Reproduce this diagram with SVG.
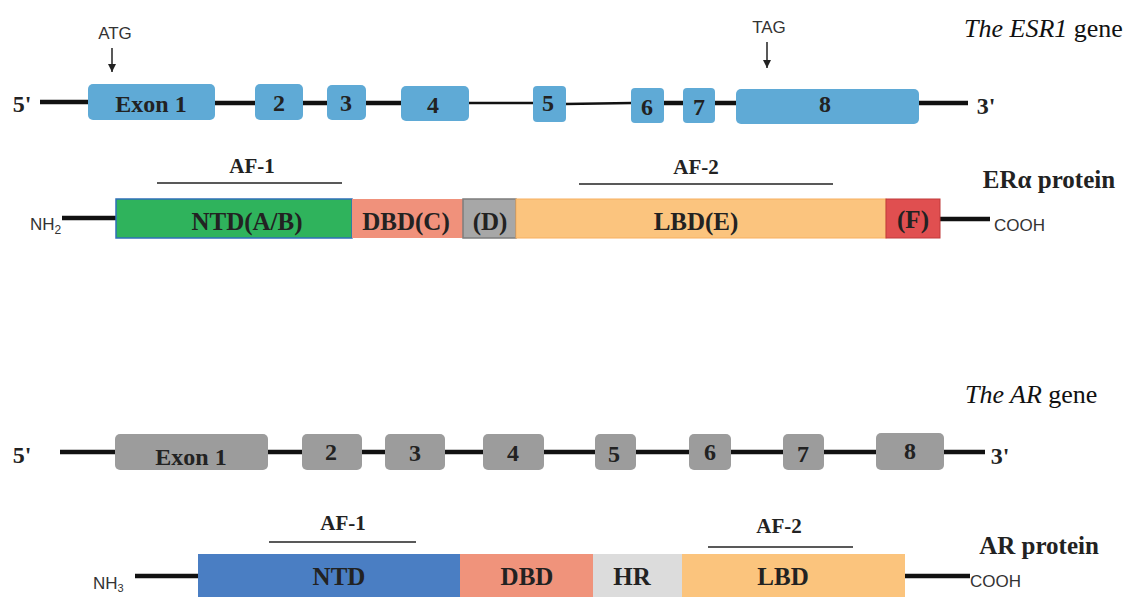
<svg xmlns="http://www.w3.org/2000/svg" width="1130" height="597" viewBox="0 0 1130 597">
<defs>
<style>
.lab{font-family:"Liberation Serif",serif;font-weight:bold;fill:#222;text-anchor:middle}
.ser{font-family:"Liberation Serif",serif;fill:#111}
.sans{font-family:"Liberation Sans",sans-serif;fill:#333}
.ex{fill:#5faad6}
.gx{fill:#9c9c9c}
.thick{stroke:#111;stroke-width:4.5}
.thin{stroke:#111;stroke-width:2.5}
.af{stroke:#222;stroke-width:1.3}
</style>
<marker id="ar" viewBox="0 0 10 10" refX="10" refY="5" markerWidth="8" markerHeight="8" orient="auto" markerUnits="userSpaceOnUse">
<path d="M0,0 L10,5 L0,10 Z" fill="#222"/>
</marker>
</defs>
<rect width="1130" height="597" fill="#fff"/>

<g id="connectors">
<line class="thick" x1="40" y1="102" x2="90" y2="102"/>
<line class="thick" x1="215" y1="103" x2="256" y2="103"/>
<line class="thick" x1="302" y1="103" x2="328" y2="103"/>
<line class="thick" x1="365" y1="103" x2="402" y2="103"/>
<line class="thin" x1="468" y1="103" x2="534" y2="103"/>
<line class="thin" x1="565" y1="104" x2="632" y2="103"/>
<line class="thick" x1="663" y1="103" x2="684" y2="103"/>
<line class="thick" x1="714" y1="103" x2="737" y2="103"/>
<line class="thick" x1="918" y1="103" x2="968" y2="103"/>
<line stroke="#222" stroke-width="1.5" x1="112" y1="48" x2="112" y2="72" marker-end="url(#ar)"/>
<line stroke="#222" stroke-width="1.5" x1="767" y1="42" x2="767" y2="68" marker-end="url(#ar)"/>
<line class="af" x1="157" y1="183" x2="342" y2="183"/>
<line class="af" x1="579" y1="184" x2="833" y2="184"/>
<line class="thick" x1="62" y1="218" x2="118" y2="218"/>
<line class="thick" x1="940" y1="219" x2="990" y2="219"/>
<line class="thick" x1="60" y1="452" x2="116" y2="452"/>
<line class="thick" x1="267" y1="452" x2="303" y2="452"/>
<line class="thick" x1="361" y1="452" x2="386" y2="452"/>
<line class="thick" x1="444" y1="452" x2="484" y2="452"/>
<line class="thick" x1="543" y1="452" x2="596" y2="452"/>
<line class="thick" x1="635" y1="452" x2="690" y2="452"/>
<line class="thick" x1="730" y1="452" x2="784" y2="452"/>
<line class="thick" x1="823" y1="452" x2="877" y2="452"/>
<line class="thick" x1="943" y1="452" x2="985" y2="452"/>
<line class="af" x1="269" y1="542" x2="416" y2="542"/>
<line class="af" x1="708" y1="547" x2="853" y2="547"/>
<line class="thick" x1="135" y1="576" x2="200" y2="576"/>
<line class="thick" x1="905" y1="576" x2="970" y2="576"/>
</g>

<g id="esr1-title"><text class="ser" x="964" y="37" font-size="26"><tspan font-style="italic">The ESR1</tspan> gene</text></g>
<g id="atg"><text class="sans" x="115" y="39" font-size="17" text-anchor="middle">ATG</text></g>
<g id="tag"><text class="sans" x="769" y="33" font-size="17" text-anchor="middle">TAG</text></g>
<g id="esr1-5p"><text class="lab" x="22" y="112" font-size="24">5'</text></g>
<g id="esr1-3p"><text class="lab" x="986" y="114" font-size="24">3'</text></g>

<g id="esr1-exon1"><rect class="ex" x="88" y="84" width="127" height="36" rx="5"/><text class="lab" x="151" y="112" font-size="24">Exon 1</text></g>
<g id="esr1-exon2"><rect class="ex" x="255" y="84" width="48" height="36" rx="5"/><text class="lab" x="279" y="111" font-size="24">2</text></g>
<g id="esr1-exon3"><rect class="ex" x="327" y="85" width="39" height="35" rx="5"/><text class="lab" x="346" y="111" font-size="24">3</text></g>
<g id="esr1-exon4"><rect class="ex" x="401" y="86" width="68" height="35" rx="5"/><text class="lab" x="433" y="113" font-size="24">4</text></g>
<g id="esr1-exon5"><rect class="ex" x="533" y="86" width="33" height="36" rx="4"/><text class="lab" x="548" y="111" font-size="24">5</text></g>
<g id="esr1-exon6"><rect class="ex" x="631" y="88" width="33" height="35" rx="4"/><text class="lab" x="647" y="115" font-size="24">6</text></g>
<g id="esr1-exon7"><rect class="ex" x="683" y="88" width="32" height="35" rx="4"/><text class="lab" x="699" y="115" font-size="24">7</text></g>
<g id="esr1-exon8"><rect class="ex" x="736" y="89" width="183" height="35" rx="5"/><text class="lab" x="825" y="112" font-size="24">8</text></g>

<g id="era-title"><text class="lab" x="1049" y="188" font-size="25">ERα protein</text></g>
<g id="era-af1"><text class="lab" x="252" y="173" font-size="21">AF-1</text></g>
<g id="era-af2"><text class="lab" x="696" y="174" font-size="21">AF-2</text></g>
<g id="era-nh2"><text class="sans" x="30" y="230" font-size="17">NH<tspan font-size="12" dy="4">2</tspan></text></g>
<g id="era-cooh"><text class="sans" x="994" y="231" font-size="17">COOH</text></g>
<g id="era-ntd"><rect x="116" y="199" width="236" height="39" fill="#2fb35c" stroke="#2f6fb8" stroke-width="1.5"/><text class="lab" x="247" y="230" font-size="25">NTD(A/B)</text></g>
<g id="era-dbd"><rect x="352" y="199" width="111" height="39" fill="#f0917b"/><text class="lab" x="406" y="230" font-size="25">DBD(C)</text></g>
<g id="era-d"><rect x="463" y="199" width="53" height="39" fill="#a7a7a7" stroke="#7d7d7d" stroke-width="1.5"/><text class="lab" x="490" y="230" font-size="25">(D)</text></g>
<g id="era-lbd"><rect x="516" y="199" width="370" height="39" fill="#fbc47e" stroke="#f7b060" stroke-width="1"/><text class="lab" x="696" y="230" font-size="25">LBD(E)</text></g>
<g id="era-f"><rect x="886" y="199" width="54" height="39" fill="#e04f50" stroke="#c03a3a" stroke-width="1"/><text class="lab" x="913" y="228" font-size="25">(F)</text></g>

<g id="ar-title"><text class="ser" x="965" y="403" font-size="26"><tspan font-style="italic">The AR</tspan> gene</text></g>
<g id="ar-5p"><text class="lab" x="22" y="463" font-size="24">5'</text></g>
<g id="ar-3p"><text class="lab" x="1000" y="464" font-size="24">3'</text></g>
<g id="ar-exon1"><rect class="gx" x="115" y="434" width="153" height="36" rx="5"/><text class="lab" x="191" y="465" font-size="24">Exon 1</text></g>
<g id="ar-exon2"><rect class="gx" x="302" y="434" width="60" height="36" rx="5"/><text class="lab" x="331" y="460" font-size="24">2</text></g>
<g id="ar-exon3"><rect class="gx" x="385" y="434" width="60" height="36" rx="5"/><text class="lab" x="415" y="461" font-size="24">3</text></g>
<g id="ar-exon4"><rect class="gx" x="483" y="434" width="61" height="36" rx="5"/><text class="lab" x="513" y="461" font-size="24">4</text></g>
<g id="ar-exon5"><rect class="gx" x="595" y="434" width="41" height="36" rx="5"/><text class="lab" x="614" y="462" font-size="24">5</text></g>
<g id="ar-exon6"><rect class="gx" x="689" y="434" width="42" height="36" rx="5"/><text class="lab" x="710" y="460" font-size="24">6</text></g>
<g id="ar-exon7"><rect class="gx" x="783" y="434" width="41" height="36" rx="5"/><text class="lab" x="803" y="462" font-size="24">7</text></g>
<g id="ar-exon8"><rect class="gx" x="876" y="433" width="68" height="37" rx="5"/><text class="lab" x="910" y="459" font-size="24">8</text></g>

<g id="ar-title2"><text class="lab" x="1039" y="554" font-size="25">AR protein</text></g>
<g id="ar-af1"><text class="lab" x="343" y="530" font-size="21">AF-1</text></g>
<g id="ar-af2"><text class="lab" x="779" y="533" font-size="21">AF-2</text></g>
<g id="ar-nh3"><text class="sans" x="93" y="589" font-size="17">NH<tspan font-size="11" dy="3">3</tspan></text></g>
<g id="ar-cooh"><text class="sans" x="970" y="587" font-size="17">COOH</text></g>
<g id="ar-ntd"><rect x="198" y="554" width="262" height="43" fill="#4a7ec3"/><text class="lab" x="339" y="585" font-size="25">NTD</text></g>
<g id="ar-dbd"><rect x="460" y="554" width="133" height="43" fill="#f0937b"/><text class="lab" x="527" y="585" font-size="25">DBD</text></g>
<g id="ar-hr"><rect x="593" y="554" width="89" height="43" fill="#dcdcdc"/><text class="lab" x="632" y="585" font-size="25">HR</text></g>
<g id="ar-lbd"><rect x="682" y="554" width="223" height="43" fill="#fbc47d"/><text class="lab" x="783" y="585" font-size="25">LBD</text></g>
</svg>
